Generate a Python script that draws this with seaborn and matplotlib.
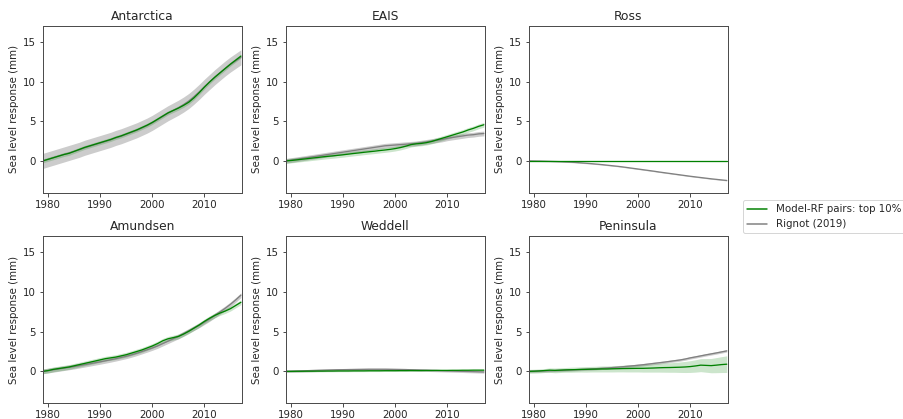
import numpy as np
import pandas as pd
import matplotlib
matplotlib.use("Agg")
import matplotlib.pyplot as plt
import seaborn as sns

# -----------------------------
# Data
# -----------------------------
years = np.arange(1979, 2018)
regions = ['Antarctica', 'EAIS', 'Ross', 'Amundsen', 'Weddell', 'Peninsula']

ant_model = [0.0, 0.2, 0.4, 0.6, 0.8, 0.95, 1.2, 1.45, 1.7, 1.9, 2.1, 2.3, 2.5, 2.7, 2.95, 3.15,
             3.4, 3.65, 3.9, 4.2, 4.5, 4.85, 5.25, 5.65, 6.05, 6.35, 6.65, 7.0, 7.4, 7.95, 8.6,
             9.3, 9.95, 10.55, 11.1, 11.65, 12.2, 12.7, 13.2]
ant_rignot = [0.0, 0.2, 0.4, 0.6, 0.8, 1.0, 1.2, 1.4, 1.65, 1.85, 2.05, 2.25, 2.45, 2.65, 2.9, 3.1,
              3.35, 3.6, 3.85, 4.15, 4.45, 4.8, 5.2, 5.6, 6.0, 6.35, 6.7, 7.1, 7.55, 8.1, 8.7,
              9.35, 9.95, 10.55, 11.1, 11.65, 12.15, 12.6, 13.05]

eais_model = [0.0, 0.05, 0.12, 0.2, 0.27, 0.35, 0.42, 0.5, 0.57, 0.63, 0.7, 0.77, 0.85, 0.93, 1.0,
              1.08, 1.15, 1.22, 1.3, 1.37, 1.45, 1.55, 1.68, 1.85, 2.05, 2.15, 2.2, 2.3, 2.45, 2.65,
              2.85, 3.05, 3.25, 3.45, 3.65, 3.9, 4.1, 4.35, 4.55]
eais_rignot = [0.0, 0.1, 0.2, 0.3, 0.4, 0.5, 0.6, 0.7, 0.8, 0.9, 1.0, 1.1, 1.2, 1.3, 1.4, 1.5, 1.6,
               1.7, 1.8, 1.9, 1.95, 2.0, 2.05, 2.1, 2.15, 2.2, 2.3, 2.4, 2.5, 2.6, 2.7, 2.85, 2.95,
               3.05, 3.15, 3.25, 3.3, 3.4, 3.45]

ross_model = [0.0, 0.0, 0.0, 0.0, 0.0, 0.0, 0.0, 0.0, 0.0, 0.0, 0.0, 0.0, 0.0, 0.0, 0.0, 0.0, 0.0,
              0.0, 0.0, 0.0, 0.0, 0.0, 0.0, 0.0, 0.0, 0.0, 0.0, 0.0, 0.0, 0.0, 0.0, 0.0, 0.0, 0.0,
              0.0, 0.0, 0.0, 0.0, 0.0]
ross_rignot = [0.0, -0.01, -0.02, -0.04, -0.06, -0.08, -0.1, -0.13, -0.16, -0.2, -0.25, -0.3, -0.35,
               -0.41, -0.47, -0.54, -0.61, -0.68, -0.76, -0.85, -0.94, -1.03, -1.12, -1.21, -1.3,
               -1.4, -1.49, -1.58, -1.67, -1.76, -1.85, -1.94, -2.02, -2.1, -2.18, -2.26, -2.33,
               -2.4, -2.47]

amun_model = [0.0, 0.1, 0.25, 0.35, 0.45, 0.55, 0.7, 0.85, 1.0, 1.15, 1.3, 1.45, 1.6, 1.7, 1.8,
              1.95, 2.1, 2.3, 2.5, 2.7, 2.95, 3.2, 3.5, 3.85, 4.1, 4.25, 4.4, 4.7, 5.05, 5.45, 5.85,
              6.3, 6.7, 7.05, 7.35, 7.6, 7.9, 8.3, 8.7]
amun_rignot = [0.0, 0.1, 0.2, 0.3, 0.4, 0.5, 0.6, 0.72, 0.84, 0.96, 1.08, 1.2, 1.33, 1.46, 1.6,
               1.75, 1.9, 2.08, 2.28, 2.5, 2.72, 2.95, 3.2, 3.5, 3.8, 4.1, 4.4, 4.75, 5.1, 5.45,
               5.8, 6.2, 6.6, 7.05, 7.5, 7.95, 8.45, 9.0, 9.6]

wedd_model = [0.0, 0.0, 0.01, 0.01, 0.02, 0.02, 0.03, 0.03, 0.04, 0.04, 0.05, 0.05, 0.05, 0.06,
              0.06, 0.06, 0.07, 0.07, 0.07, 0.08, 0.08, 0.08, 0.09, 0.09, 0.1, 0.1, 0.1, 0.11, 0.11,
              0.12, 0.12, 0.12, 0.13, 0.13, 0.14, 0.14, 0.15, 0.15, 0.15]
wedd_rignot = [0.0, 0.02, 0.04, 0.06, 0.08, 0.1, 0.12, 0.14, 0.16, 0.18, 0.2, 0.21, 0.22, 0.23,
               0.24, 0.25, 0.26, 0.26, 0.26, 0.26, 0.25, 0.24, 0.23, 0.22, 0.2, 0.18, 0.16, 0.14,
               0.12, 0.1, 0.08, 0.06, 0.04, 0.02, 0.0, -0.02, -0.04, -0.06, -0.08]

pen_model = [0.0, 0.02, 0.05, 0.1, 0.15, 0.12, 0.15, 0.18, 0.2, 0.22, 0.24, 0.25, 0.27, 0.28, 0.3,
             0.3, 0.32, 0.33, 0.35, 0.36, 0.37, 0.38, 0.38, 0.4, 0.42, 0.45, 0.47, 0.48, 0.5, 0.52,
             0.55, 0.6, 0.68, 0.78, 0.75, 0.72, 0.78, 0.85, 0.9]
pen_rignot = [0.0, 0.02, 0.04, 0.06, 0.08, 0.1, 0.12, 0.15, 0.18, 0.21, 0.24, 0.27, 0.3, 0.34, 0.38,
              0.42, 0.47, 0.52, 0.58, 0.64, 0.7, 0.77, 0.84, 0.92, 1.0, 1.08, 1.16, 1.25, 1.34, 1.43,
              1.55, 1.7, 1.82, 1.95, 2.08, 2.2, 2.32, 2.45, 2.58]
pen_model_spread = [0.25, 0.25, 0.25, 0.25, 0.28, 0.3, 0.3, 0.3, 0.32, 0.32, 0.33, 0.35, 0.35, 0.36,
                    0.38, 0.38, 0.4, 0.4, 0.42, 0.44, 0.45, 0.46, 0.48, 0.5, 0.52, 0.55, 0.58, 0.6,
                    0.62, 0.66, 0.7, 0.74, 0.78, 0.82, 0.86, 0.9, 0.95, 1.0, 1.05]

model_series = [ant_model, eais_model, ross_model, amun_model, wedd_model, pen_model]
rignot_series = [ant_rignot, eais_rignot, ross_rignot, amun_rignot, wedd_rignot, pen_rignot]
model_spread = [0.25, 0.3, 0.0, 0.3, 0.1, pen_model_spread]
rignot_spread = [0.95, 0.3, 0.06, 0.3, 0.15, 0.15]

model_label = 'Model-RF pairs: top 10%'
rignot_label = 'Rignot (2019)'

# -----------------------------
# Plot
# -----------------------------
sns.set_style("ticks")
plt.rcParams['font.family'] = ['DejaVu Sans']
plt.rcParams['xtick.direction'] = 'out'
plt.rcParams['ytick.direction'] = 'out'

fig, axes = plt.subplots(2, 3, figsize=(903 / 72, 419 / 72), dpi=72)
fig.subplots_adjust(left=0.0476, right=0.806, top=0.938, bottom=0.038, wspace=0.221, hspace=0.263)

for ax, name, mod, rig, ms, rs in zip(axes.flat, regions, model_series, rignot_series,
                                      model_spread, rignot_spread):
    mod = np.array(mod)
    rig = np.array(rig)
    ms = np.array(ms)
    ax.fill_between(years, rig - rs, rig + rs, color='grey', alpha=0.4, linewidth=0)
    ax.fill_between(years, mod - ms, mod + ms, color='green', alpha=0.2, linewidth=0)
    df = pd.DataFrame({'year': np.concatenate([years, years]),
                       'slr': np.concatenate([rig, mod]),
                       'Type': [rignot_label] * len(years) + [model_label] * len(years)})
    sns.lineplot(data=df, x='year', y='slr', hue='Type',
                 palette={model_label: 'green', rignot_label: 'grey'},
                 hue_order=[rignot_label, model_label], ax=ax, legend=False, linewidth=1.3)
    ax.set_title(name, fontsize=12.3)
    ax.set_xlim(1979, 2017.2)
    ax.set_ylim(-4, 17)
    ax.set_xticks([1980, 1990, 2000, 2010])
    ax.set_yticks([0, 5, 10, 15])
    ax.tick_params(labelsize=10.2, length=3.5, width=1.0, color='0.3')
    ax.set_xlabel('')
    ax.set_ylabel('Sea level response (mm)', fontsize=10.2)
    for sp in ax.spines.values():
        sp.set_linewidth(1.0)
        sp.set_color('0.3')

handles = [plt.Line2D([], [], color='green', linewidth=1.5),
           plt.Line2D([], [], color='grey', linewidth=1.5)]
fig.legend(handles, [model_label, rignot_label], loc='upper left',
           bbox_to_anchor=(743 / 903, 1 - 200 / 419), borderaxespad=0, fontsize=10.2,
           frameon=True, edgecolor='0.8', fancybox=True)

plt.savefig('out.png', dpi=72)
